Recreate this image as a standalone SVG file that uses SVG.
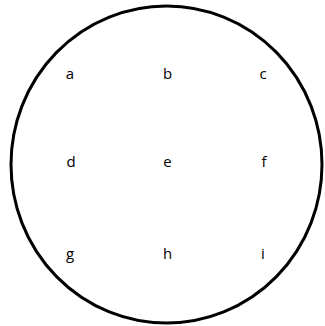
<svg xmlns="http://www.w3.org/2000/svg" width="325" height="326" viewBox="0 0 325 326">
<style>
.lbl{font-family:"Open Sans","Liberation Sans",sans-serif;font-size:15px;fill:#000;text-anchor:middle}
</style>
<rect width="325" height="326" fill="#fff"/>
<g id="circle"><ellipse cx="166.5" cy="164.5" rx="155.5" ry="158.5" fill="none" stroke="#000" stroke-width="3"/></g>
<g id="a"><text class="lbl" x="70" y="79">a</text></g>
<g id="b"><text class="lbl" x="167.5" y="79">b</text></g>
<g id="c"><text class="lbl" x="263" y="79">c</text></g>
<g id="d"><text class="lbl" x="71" y="167">d</text></g>
<g id="e"><text class="lbl" x="167.5" y="167">e</text></g>
<g id="f"><text class="lbl" x="264" y="167">f</text></g>
<g id="g"><text class="lbl" x="70" y="259">g</text></g>
<g id="h"><text class="lbl" x="167.5" y="259">h</text></g>
<g id="i"><text class="lbl" x="263" y="259">i</text></g>
</svg>
